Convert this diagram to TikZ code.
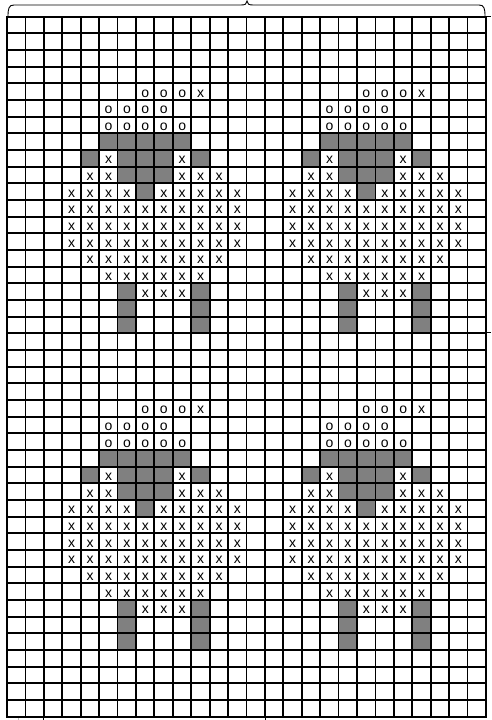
\documentclass[tikz,border=0pt]{standalone}
\usepackage{fontspec}
\setmainfont{Liberation Sans}

\begin{document}
\begin{tikzpicture}[x=1pt, y=-1pt,
  every node/.style={font=\fontsize{14}{14}\selectfont, inner sep=0pt, anchor=base},
  gridline/.style={line width=1.8pt, line cap=rect},
  darkcell/.style={fill=gray},
  bracket/.style={line width=0.9pt}]
  \useasboundingbox (0,0) rectangle (492,720);

  \foreach \dc/\dr in {0/0, 12/0, 0/19, 12/19} {
    \foreach \c/\r in {5/7,6/7,7/7,8/7,9/7, 4/8,6/8,7/8,8/8,10/8, 6/9,7/9,8/9, 7/10,
                       6/16,10/16, 6/17,10/17, 6/18,10/18}
      \fill[darkcell] ({7+18.42*(\c+\dc)},{16.7+16.667*(\r+\dr)}) rectangle ++(18.42,16.667);
  }

  \foreach \c in {0,...,26}
    \draw[gridline] ({7+18.42*\c},16.7) -- ({7+18.42*\c},716.7);
  \foreach \r in {0,...,42}
    \draw[gridline] (7,{16.7+16.667*\r}) -- (486,{16.7+16.667*\r});

  \foreach \dc/\dr in {0/0, 12/0, 0/19, 12/19} {
    \foreach \c/\r in {7/4,8/4,9/4, 5/5,6/5,7/5,8/5, 5/6,6/6,7/6,8/6,9/6}
      \node (o-\dc-\dr-\c-\r) at ({16.4+18.42*(\c+\dc)},{30.6+16.667*(\r+\dr)}) {o};
    \foreach \c/\r in {10/4, 5/8,9/8, 4/9,5/9,9/9,10/9,11/9,
                       3/10,4/10,5/10,6/10,8/10,9/10,10/10,11/10,12/10}
      \node (x-\dc-\dr-\c-\r) at ({16.4+18.42*(\c+\dc)},{30.6+16.667*(\r+\dr)}) {x};
    \foreach \r/\from/\to in {11/3/12, 12/3/12, 13/3/12, 14/4/11, 15/5/10, 16/7/9}
      \foreach \c in {\from,...,\to}
        \node (x-\dc-\dr-\c-\r) at ({16.4+18.42*(\c+\dc)},{30.6+16.667*(\r+\dr)}) {x};
  }

  \draw[bracket] (8,16.7) .. controls (8,8) and (9,5) .. (14,5) -- (241,5)
    .. controls (245,5) and (247,4) .. (247,1) .. controls (247,4) and (249,5) .. (253,5)
    -- (479,5) .. controls (484,5) and (485,8) .. (485,16.7);
  \draw (487,16) -- (491,16);
  \draw (487,332) -- (491,332);
  \draw (43,717) -- (43,720);
  \draw (265,717) -- (265,720);
  \draw[gray!50] (18,718) -- (18,720);
\end{tikzpicture}
\end{document}
